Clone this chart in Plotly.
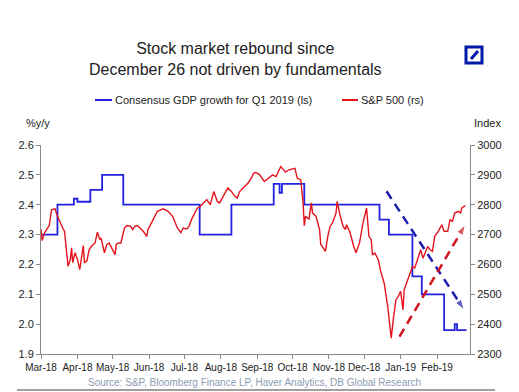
import plotly.graph_objects as go

# ---- data -------------------------------------------------------------
gdp_dates = ["2018-03-01", "2018-03-15", "2018-03-29", "2018-04-01", "2018-04-12",
             "2018-04-22", "2018-05-10", "2018-07-14", "2018-08-10", "2018-09-15",
             "2018-09-20", "2018-09-22", "2018-10-11", "2018-12-14", "2018-12-22",
             "2019-01-11", "2019-01-19", "2019-02-07", "2019-02-16", "2019-02-18",
             "2019-02-26"]
gdp_values = [2.30, 2.40, 2.42, 2.41, 2.45,
              2.50, 2.40, 2.30, 2.40, 2.47,
              2.44, 2.47, 2.40, 2.35, 2.30,
              2.16, 2.10, 1.98, 2.00, 1.98,
              1.98]

spx_dates = [
    "2018-03-01", "2018-03-02", "2018-03-04", "2018-03-07", "2018-03-08", "2018-03-10",
    "2018-03-13", "2018-03-14", "2018-03-16", "2018-03-17", "2018-03-20", "2018-03-21",
    "2018-03-24", "2018-03-26", "2018-03-27", "2018-03-28", "2018-03-30", "2018-04-01",
    "2018-04-03", "2018-04-05", "2018-04-06", "2018-04-07", "2018-04-09", "2018-04-11",
    "2018-04-13", "2018-04-16", "2018-04-18", "2018-04-20", "2018-04-21", "2018-04-24",
    "2018-04-26", "2018-04-28", "2018-05-01", "2018-05-03", "2018-05-04", "2018-05-06",
    "2018-05-08", "2018-05-11", "2018-05-13", "2018-05-16", "2018-05-18", "2018-05-20",
    "2018-05-22", "2018-05-24", "2018-05-27", "2018-05-30", "2018-05-31", "2018-06-03",
    "2018-06-06", "2018-06-08", "2018-06-13", "2018-06-17", "2018-06-21", "2018-06-25",
    "2018-06-28", "2018-06-30", "2018-07-03", "2018-07-05", "2018-07-07", "2018-07-10",
    "2018-07-12", "2018-07-14", "2018-07-17", "2018-07-20", "2018-07-23", "2018-07-26",
    "2018-07-29", "2018-07-31", "2018-08-03", "2018-08-07", "2018-08-10", "2018-08-13",
    "2018-08-15", "2018-08-17", "2018-08-20", "2018-08-24", "2018-08-27", "2018-08-29",
    "2018-08-31", "2018-09-03", "2018-09-07", "2018-09-11", "2018-09-14", "2018-09-17",
    "2018-09-21", "2018-09-25", "2018-09-28", "2018-10-03", "2018-10-05", "2018-10-08",
    "2018-10-10", "2018-10-11", "2018-10-12", "2018-10-15", "2018-10-17", "2018-10-18",
    "2018-10-21", "2018-10-24", "2018-10-25", "2018-10-27", "2018-10-29", "2018-10-31",
    "2018-11-02", "2018-11-04", "2018-11-07", "2018-11-08", "2018-11-10", "2018-11-13",
    "2018-11-15", "2018-11-16", "2018-11-19", "2018-11-22", "2018-11-24", "2018-11-27",
    "2018-11-30", "2018-12-03", "2018-12-05", "2018-12-07", "2018-12-08", "2018-12-10",
    "2018-12-13", "2018-12-15", "2018-12-18", "2018-12-21", "2018-12-24", "2018-12-26",
    "2018-12-28", "2018-12-30", "2019-01-01", "2019-01-03", "2019-01-04", "2019-01-06",
    "2019-01-09", "2019-01-11", "2019-01-13", "2019-01-15", "2019-01-17", "2019-01-18",
    "2019-01-20", "2019-01-22", "2019-01-24", "2019-01-26", "2019-01-28", "2019-01-30",
    "2019-02-02", "2019-02-05", "2019-02-07", "2019-02-10", "2019-02-12", "2019-02-14",
    "2019-02-16", "2019-02-19", "2019-02-21", "2019-02-22", "2019-02-25"]
spx_values = [
    2718, 2680, 2706, 2722, 2730, 2783,
    2786, 2772, 2750, 2744, 2717, 2711,
    2594, 2617, 2656, 2606, 2639, 2617,
    2583, 2628, 2663, 2606, 2611, 2650,
    2661, 2672, 2708, 2683, 2689, 2639,
    2667, 2672, 2650, 2633, 2667, 2672,
    2672, 2722, 2730, 2728, 2717, 2728,
    2730, 2722, 2711, 2694, 2717, 2739,
    2761, 2778, 2786, 2778, 2761, 2722,
    2706, 2722, 2719, 2728, 2750, 2772,
    2789, 2792, 2806, 2817, 2800, 2844,
    2811, 2806, 2828, 2856, 2844, 2828,
    2822, 2844, 2856, 2872, 2890, 2906,
    2908, 2900, 2878, 2889, 2900, 2894,
    2928, 2909, 2917, 2922, 2889, 2883,
    2806, 2730, 2761, 2752, 2806, 2772,
    2761, 2717, 2667, 2656, 2644, 2694,
    2728, 2739, 2772, 2811, 2772, 2728,
    2717, 2733, 2706, 2661, 2639, 2672,
    2739, 2789, 2694, 2683, 2632, 2638,
    2616, 2577, 2537, 2459, 2353, 2425,
    2482, 2493, 2510, 2448, 2515, 2537,
    2571, 2593, 2588, 2616, 2638, 2649,
    2621, 2644, 2660, 2649, 2644, 2694,
    2711, 2733, 2711, 2711, 2750, 2744,
    2772, 2778, 2772, 2789, 2797]

# trend arrows (right-axis units)
gdp_trend_dates = ["2018-12-20", "2019-02-24"]
gdp_trend_values = [2845, 2448]
spx_trend_dates = ["2018-12-31", "2019-02-25"]
spx_trend_values = [2358, 2733]

tick_dates = ["2018-03-01", "2018-04-01", "2018-05-01", "2018-06-01", "2018-07-01",
              "2018-08-01", "2018-09-01", "2018-10-01", "2018-11-01", "2018-12-01",
              "2019-01-01", "2019-02-01"]
tick_labels = ["Mar-18", "Apr-18", "May-18", "Jun-18", "Jul-18", "Aug-18", "Sep-18",
               "Oct-18", "Nov-18", "Dec-18", "Jan-19", "Feb-19"]

title_text = "Stock market rebound since<br>December 26 not driven by fundamentals"
gdp_name = "Consensus GDP growth for Q1 2019 (ls)"
spx_name = "S&P 500 (rs)"
source_text = "Source: S&P, Bloomberg Finance LP, Haver Analytics, DB Global Research"

# ---- styling ------------------------------------------------------------
BLUE = "#2222E0"
RED = "#E4141C"
NAVY_DASH = "#1C1CB0"
RED_DASH = "#D0121C"
AXIS = "#8A8A8A"
TXT = "#222222"
FONT = "Liberation Sans, Arial, sans-serif"

fig = go.Figure()
fig.add_trace(go.Scatter(x=spx_dates, y=spx_values, yaxis="y2", mode="lines",
                         line=dict(color=RED, width=1.4), name=spx_name,
                         showlegend=False))
fig.add_trace(go.Scatter(x=gdp_dates, y=gdp_values, mode="lines",
                         line=dict(color=BLUE, width=1.8, shape="hv"), name=gdp_name,
                         showlegend=False))
fig.add_trace(go.Scatter(x=gdp_trend_dates, y=gdp_trend_values, yaxis="y2",
                         mode="lines+markers",
                         line=dict(color=NAVY_DASH, width=2.5, dash="9px,6px"),
                         marker=dict(symbol="arrow", size=[0, 11], angleref="previous",
                                     color=NAVY_DASH),
                         showlegend=False, hoverinfo="skip"))
fig.add_trace(go.Scatter(x=spx_trend_dates, y=spx_trend_values, yaxis="y2",
                         mode="lines+markers",
                         line=dict(color=RED_DASH, width=2.5, dash="9px,6px"),
                         marker=dict(symbol="arrow", size=[0, 11], angleref="previous",
                                     color=RED_DASH),
                         showlegend=False, hoverinfo="skip"))

axis_common = dict(showgrid=False, zeroline=False, showline=True, linecolor=AXIS,
                   linewidth=1, ticks="outside", tickcolor=AXIS, ticklen=4,
                   tickfont=dict(family=FONT, size=11, color=TXT))

# The page body adds an 8px offset, so the figure is 8px smaller in each direction.
fig.update_layout(
    width=511, height=384,
    margin=dict(l=33, r=49, t=137, b=38),
    paper_bgcolor="white", plot_bgcolor="white",
    font=dict(family=FONT, color=TXT),
    xaxis=dict(range=["2018-03-01", "2019-03-01"], tickvals=tick_dates,
               ticktext=tick_labels, tickangle=0, **axis_common),
    yaxis=dict(range=[1.9, 2.6], dtick=0.1, tickformat=".1f", **axis_common),
    yaxis2=dict(range=[2300, 3000], dtick=100, overlaying="y", side="right",
                **axis_common),
    showlegend=False,
)
fig.update_xaxes(tickfont=dict(family=FONT, size=10, color=TXT))

def px_x(p):
    return (p - 41) / 429

def px_y(p):
    return (354 - p) / 209

annotations = [
    dict(text=title_text, xref="paper", yref="paper", x=px_x(235), y=px_y(59),
         xanchor="center", yanchor="middle", showarrow=False,
         font=dict(family=FONT, size=16, color=TXT)),
    dict(text="%y/y", xref="paper", yref="paper", x=px_x(24), y=px_y(123),
         xanchor="left", yanchor="middle", showarrow=False,
         font=dict(family=FONT, size=11, color=TXT)),
    dict(text="Index", xref="paper", yref="paper", x=px_x(472), y=px_y(123),
         xanchor="left", yanchor="middle", showarrow=False,
         font=dict(family=FONT, size=11, color=TXT)),
    dict(text=gdp_name, xref="paper", yref="paper", x=px_x(113), y=px_y(100),
         xanchor="left", yanchor="middle", showarrow=False,
         font=dict(family=FONT, size=11, color=TXT)),
    dict(text=spx_name, xref="paper", yref="paper", x=px_x(359), y=px_y(100),
         xanchor="left", yanchor="middle", showarrow=False,
         font=dict(family=FONT, size=11, color=TXT)),
    dict(text=source_text, xref="paper", yref="paper", x=px_x(254), y=px_y(382),
         xanchor="center", yanchor="middle", showarrow=False,
         font=dict(family=FONT, size=10, color="#8C9BB2")),
]
fig.update_layout(annotations=annotations)

shapes = [
    # legend samples
    dict(type="line", xref="paper", yref="paper", x0=px_x(95), x1=px_x(112),
         y0=px_y(100), y1=px_y(100), line=dict(color=BLUE, width=2)),
    dict(type="line", xref="paper", yref="paper", x0=px_x(342), x1=px_x(358),
         y0=px_y(100), y1=px_y(100), line=dict(color=RED, width=2)),
    # DB logo
    dict(type="rect", xref="paper", yref="paper", x0=px_x(466), x1=px_x(482),
         y0=px_y(63), y1=px_y(47), line=dict(color="#0018A8", width=3)),
    dict(type="line", xref="paper", yref="paper", x0=px_x(471), x1=px_x(478),
         y0=px_y(59), y1=px_y(51), line=dict(color="#0018A8", width=3)),
    # bottom rule
    dict(type="line", xref="paper", yref="paper", x0=px_x(17), x1=px_x(495),
         y0=px_y(390), y1=px_y(390), line=dict(color="#A0A0A0", width=2)),
]
fig.update_layout(shapes=shapes)

fig.write_html("out.html")
